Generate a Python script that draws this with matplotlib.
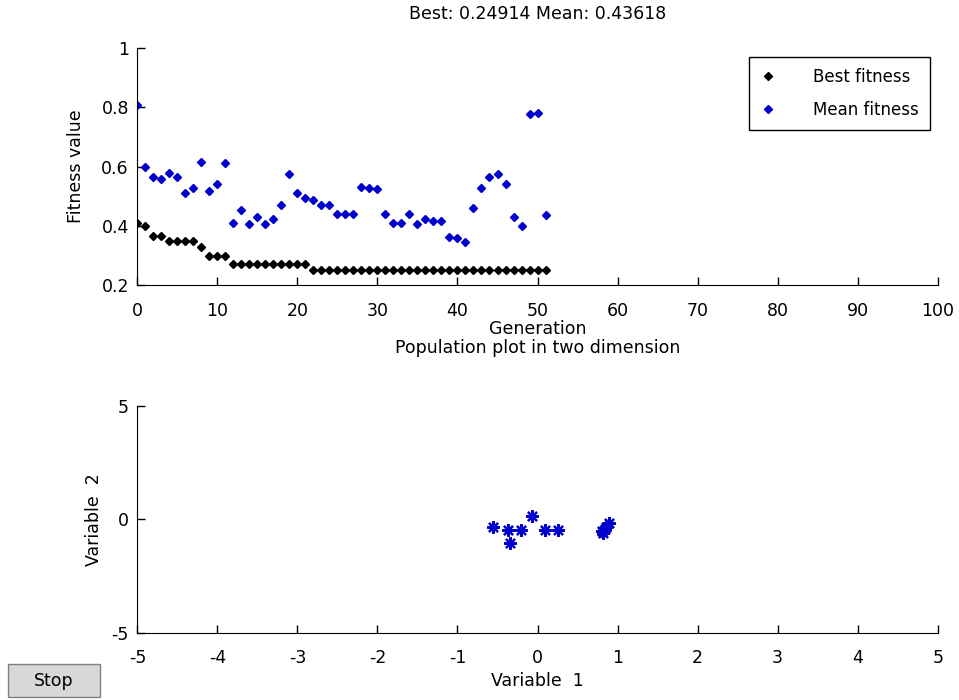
import matplotlib
matplotlib.use("Agg")
import matplotlib.pyplot as plt
from matplotlib.patches import Rectangle

plt.rcParams["font.family"] = ["DejaVu Sans"]
plt.rcParams["axes.unicode_minus"] = False

# 세대별 적합도 데이터
generations = list(range(52))
best_fitness = [0.411, 0.399, 0.367, 0.367, 0.350, 0.350, 0.350, 0.350, 0.329, 0.298,
                0.298, 0.298] + [0.270] * 10 + [0.24914] * 30
mean_fitness = [0.808, 0.600, 0.564, 0.557, 0.577, 0.564, 0.510, 0.529, 0.617, 0.518,
                0.540, 0.611, 0.411, 0.453, 0.405, 0.429, 0.405, 0.423, 0.469, 0.575,
                0.512, 0.493, 0.487, 0.469, 0.469, 0.440, 0.440, 0.440, 0.532, 0.529,
                0.523, 0.440, 0.411, 0.411, 0.440, 0.405, 0.423, 0.416, 0.416, 0.363,
                0.358, 0.344, 0.459, 0.529, 0.564, 0.575, 0.540, 0.429, 0.399, 0.777,
                0.782, 0.43618]

# 2차원 개체군 위치
pop_x = [-0.56, -0.37, -0.35, -0.21, -0.07, 0.09, 0.25, 0.80, 0.86, 0.89, 0.82, 0.84]
pop_y = [-0.33, -0.48, -1.04, -0.48, 0.14, -0.48, -0.48, -0.51, -0.36, -0.18, -0.62, -0.45]

fig = plt.figure(figsize=(9.59, 7), dpi=100)
fs = 12.5

def style_axes(ax):
    ax.spines["top"].set_visible(False)
    ax.spines["right"].set_visible(False)
    ax.tick_params(direction="in", length=6, width=1, labelsize=fs)
    ax.tick_params(axis="x", pad=12)
    ax.tick_params(axis="y", pad=6)

# 위쪽: 적합도 그래프
ax1 = fig.add_axes([0.1432, 0.5929, 0.8346, 0.3381])
ax1.plot(generations, best_fitness, "D", color="black", markersize=4, label="Best fitness")
ax1.plot(generations, mean_fitness, "D", color="#0000cc", markersize=4, label="Mean fitness")
ax1.set_xlim(0, 100)
ax1.set_ylim(0.2, 1)
ax1.set_xticks(range(0, 101, 10))
ax1.set_yticks([0.2, 0.4, 0.6, 0.8, 1])
ax1.set_yticklabels(["0.2", "0.4", "0.6", "0.8", "1"])
style_axes(ax1)
ax1.set_xlabel("Generation", fontsize=fs, labelpad=0)
ax1.set_ylabel("Fitness value", fontsize=fs, labelpad=12)
ax1.set_title("Best: 0.24914 Mean: 0.43618", fontsize=fs, pad=21)
leg = ax1.legend(loc="upper right", bbox_to_anchor=(0.990, 0.963), borderaxespad=0,
                 fontsize=12, fancybox=False, edgecolor="black", framealpha=1,
                 handlelength=1.0, handletextpad=2.2, borderpad=0.65, labelspacing=0.9)
leg.get_frame().set_linewidth(1)

# 아래쪽: 개체군 분포
ax2 = fig.add_axes([0.1432, 0.0961, 0.8346, 0.3243])
ax2.plot(pop_x, pop_y, linestyle="none", marker=(8, 2, 0), color="#0000cc",
         markersize=9, markeredgewidth=1.6)
ax2.set_xlim(-5, 5)
ax2.set_ylim(-5, 5)
ax2.set_xticks(range(-5, 6))
ax2.set_yticks([-5, 0, 5])
style_axes(ax2)
ax2.set_xlabel("Variable  1", fontsize=fs, labelpad=3)
ax2.set_ylabel("Variable  2", fontsize=fs, labelpad=6)
ax2.set_title("Population plot in two dimension", fontsize=fs, pad=38)

# Stop 버튼
fig.patches.append(Rectangle((8 / 959, 1 - 697 / 700), 92 / 959, 33 / 700,
                             transform=fig.transFigure, facecolor="#d8d8d8",
                             edgecolor="#808080", linewidth=1))
fig.text(54 / 959, 1 - 681 / 700, "Stop", ha="center", va="center", fontsize=fs)

fig.savefig("out.png", dpi=100)
